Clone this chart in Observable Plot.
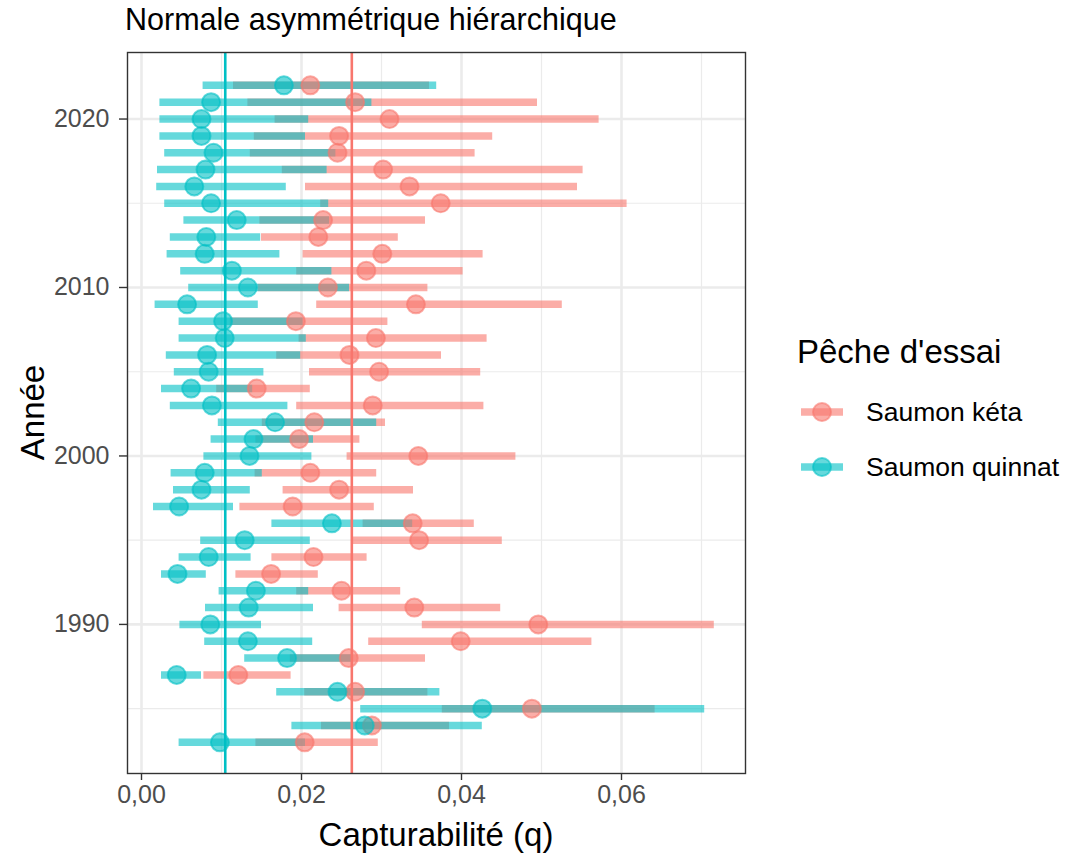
<!DOCTYPE html>
<html>
<head>
<meta charset="utf-8">
<script src="https://cdn.jsdelivr.net/npm/d3@7"></script>
<script src="https://cdn.jsdelivr.net/npm/@observablehq/plot@0.6"></script>
<style>
  body { margin: 0; background: #fff; }
  #chart svg { display: block; }
</style>
</head>
<body>
<div id="chart"></div>
<script>
// Capturabilité annuelle (q) : médiane et intervalle, par espèce de pêche d'essai
const annees = [2022, 2021, 2020, 2019, 2018, 2017, 2016, 2015, 2014, 2013,
                2012, 2011, 2010, 2009, 2008, 2007, 2006, 2005, 2004, 2003,
                2002, 2001, 2000, 1999, 1998, 1997, 1996, 1995, 1994, 1993,
                1992, 1991, 1990, 1989, 1988, 1987, 1986, 1985, 1984, 1983];

const ketaQ = [0.0211, 0.0267, 0.0310, 0.0247, 0.0245, 0.0302, 0.0335, 0.0374, 0.0227, 0.0221,
               0.0301, 0.0281, 0.0233, 0.0343, 0.0193, 0.0293, 0.0260, 0.0297, 0.0144, 0.0289,
               0.0216, 0.0197, 0.0346, 0.0211, 0.0247, 0.0189, 0.0339, 0.0347, 0.0215, 0.0162,
               0.0250, 0.0341, 0.0496, 0.0399, 0.0259, 0.0121, 0.0267, 0.0488, 0.0288, 0.0204];
const ketaBas = [0.0115, 0.0133, 0.0167, 0.0141, 0.0136, 0.0176, 0.0205, 0.0224, 0.0148, 0.0150,
                 0.0202, 0.0194, 0.0146, 0.0219, 0.0111, 0.0197, 0.0169, 0.0210, 0.0094, 0.0194,
                 0.0151, 0.0143, 0.0257, 0.0142, 0.0177, 0.0123, 0.0277, 0.0265, 0.0163, 0.0118,
                 0.0194, 0.0247, 0.0351, 0.0284, 0.0186, 0.0078, 0.0204, 0.0376, 0.0225, 0.0143];
const ketaHaut = [0.0360, 0.0495, 0.0572, 0.0439, 0.0417, 0.0552, 0.0545, 0.0607, 0.0355, 0.0321,
                  0.0427, 0.0402, 0.0358, 0.0526, 0.0308, 0.0432, 0.0375, 0.0424, 0.0211, 0.0428,
                  0.0305, 0.0273, 0.0468, 0.0294, 0.0340, 0.0291, 0.0416, 0.0451, 0.0282, 0.0221,
                  0.0324, 0.0449, 0.0716, 0.0563, 0.0355, 0.0187, 0.0358, 0.0642, 0.0385, 0.0296];

const quinnatQ = [0.0178, 0.0087, 0.0075, 0.0075, 0.0090, 0.0080, 0.0066, 0.0087, 0.0119, 0.0081,
                  0.0079, 0.0113, 0.0133, 0.0057, 0.0102, 0.0104, 0.0082, 0.0084, 0.0062, 0.0088,
                  0.0167, 0.0140, 0.0135, 0.0079, 0.0075, 0.0047, 0.0238, 0.0129, 0.0084, 0.0045,
                  0.0143, 0.0134, 0.0086, 0.0133, 0.0182, 0.0044, 0.0245, 0.0426, 0.0279, 0.0098];
const quinnatBas = [0.0077, 0.0023, 0.0023, 0.0023, 0.0029, 0.0020, 0.0019, 0.0029, 0.0053, 0.0036,
                    0.0032, 0.0049, 0.0059, 0.0017, 0.0047, 0.0047, 0.0031, 0.0041, 0.0025, 0.0036,
                    0.0096, 0.0087, 0.0078, 0.0037, 0.0040, 0.0015, 0.0163, 0.0074, 0.0047, 0.0025,
                    0.0097, 0.0080, 0.0048, 0.0079, 0.0129, 0.0025, 0.0169, 0.0274, 0.0188, 0.0047];
const quinnatHaut = [0.0369, 0.0288, 0.0209, 0.0205, 0.0243, 0.0232, 0.0181, 0.0234, 0.0235, 0.0149,
                     0.0173, 0.0238, 0.0260, 0.0146, 0.0202, 0.0206, 0.0199, 0.0153, 0.0139, 0.0183,
                     0.0294, 0.0215, 0.0213, 0.0151, 0.0136, 0.0115, 0.0339, 0.0211, 0.0137, 0.0081,
                     0.0209, 0.0215, 0.0150, 0.0214, 0.0264, 0.0075, 0.0373, 0.0704, 0.0426, 0.0205];

// Capturabilité moyenne de chaque espèce (lignes verticales)
const especes = ["Saumon kéta", "Saumon quinnat"];
const couleurs = ["#F8766D", "#00BFC4"];
const qMoyen = [0.02629, 0.01047];

const xTicks = [0, 0.02, 0.04, 0.06];
const xMineurs = [0.01, 0.03, 0.05, 0.07];
const yTicks = [1990, 2000, 2010, 2020];
const yMineurs = [1985, 1995, 2005, 2015];

const titre = "Normale asymmétrique hiérarchique";
const titreX = "Capturabilité (q)";
const titreY = "Année";
const titreLegende = "Pêche d'essai";

// Table longue : kéta d'abord, puis quinnat (dessiné par-dessus)
const lignes = [
  ...annees.map((a, i) => ({annee: a, espece: especes[0], q: ketaQ[i], bas: ketaBas[i], haut: ketaHaut[i]})),
  ...annees.map((a, i) => ({annee: a, espece: especes[1], q: quinnatQ[i], bas: quinnatBas[i], haut: quinnatHaut[i]}))
];
const moyennes = especes.map((e, i) => ({espece: e, q: qMoyen[i]}));

const W = 1070, H = 859;
const mL = 127, mR = 325, mT = 52, mB = 86;
const police = "'Liberation Sans', Arial, Helvetica, sans-serif";
const virgule = d => d3.format(".2f")(d).replace(".", ",");

const svg = Plot.plot({
  width: W,
  height: H,
  marginLeft: mL,
  marginRight: mR,
  marginTop: mT,
  marginBottom: mB,
  style: {fontFamily: police, background: "#fff", overflow: "visible"},
  x: {domain: [-0.00175, 0.0755]},
  y: {domain: [1981.15, 2023.95]},
  color: {domain: especes, range: couleurs},
  marks: [
    Plot.gridX(xMineurs, {stroke: "#EBEBEB", strokeOpacity: 1, strokeWidth: 1.2}),
    Plot.gridY(yMineurs, {stroke: "#EBEBEB", strokeOpacity: 1, strokeWidth: 1.2}),
    Plot.gridX(xTicks, {stroke: "#EBEBEB", strokeOpacity: 1, strokeWidth: 2.6}),
    Plot.gridY(yTicks, {stroke: "#EBEBEB", strokeOpacity: 1, strokeWidth: 2.6}),
    Plot.ruleY(lignes, {y: "annee", x1: "bas", x2: "haut", stroke: "espece", strokeWidth: 7.5, strokeOpacity: 0.6}),
    Plot.dot(lignes, {x: "q", y: "annee", r: 9, fill: "espece", fillOpacity: 0.6, stroke: "espece", strokeOpacity: 0.6, strokeWidth: 2}),
    Plot.ruleX(moyennes, {x: "q", stroke: "espece", strokeWidth: 2.6}),
    Plot.frame({stroke: "#333333", strokeWidth: 1.4}),
    Plot.axisX({ticks: xTicks, tickFormat: virgule, tickSize: 7, tickPadding: 5, fontSize: 25,
                stroke: "#333333", strokeWidth: 1.4, fill: "#4D4D4D", label: null}),
    Plot.axisY({ticks: yTicks, tickFormat: d => String(d), tickSize: 8, tickPadding: 10, fontSize: 25,
                stroke: "#333333", strokeWidth: 1.4, fill: "#4D4D4D", label: null})
  ]
});

document.getElementById("chart").appendChild(svg);

// Titre, titres d'axes et légende
const s = d3.select(svg);
const panneauX = (mL + (W - mR)) / 2;
const panneauY = (mT + (H - mB)) / 2;

s.append("text").attr("x", 125).attr("y", 30).attr("text-anchor", "start")
  .attr("font-family", police).attr("font-size", 30.5).attr("fill", "#000").text(titre);

s.append("text").attr("x", panneauX).attr("y", 846).attr("text-anchor", "middle")
  .attr("font-family", police).attr("font-size", 33).attr("fill", "#000").text(titreX);

s.append("text").attr("transform", `translate(44,${panneauY}) rotate(-90)`).attr("text-anchor", "middle")
  .attr("font-family", police).attr("font-size", 33).attr("fill", "#000").text(titreY);

const leg = s.append("g").attr("text-anchor", "start");
leg.append("text").attr("x", 797).attr("y", 363).attr("text-anchor", "start")
  .attr("font-family", police).attr("font-size", 33).attr("fill", "#000").text(titreLegende);

especes.forEach((e, i) => {
  const cy = 412 + i * 55;
  leg.append("line").attr("x1", 801).attr("x2", 843).attr("y1", cy).attr("y2", cy)
    .attr("stroke", couleurs[i]).attr("stroke-width", 7.5).attr("stroke-opacity", 0.6);
  leg.append("circle").attr("cx", 822).attr("cy", cy).attr("r", 9)
    .attr("fill", couleurs[i]).attr("fill-opacity", 0.6)
    .attr("stroke", couleurs[i]).attr("stroke-opacity", 0.6).attr("stroke-width", 2);
  leg.append("text").attr("x", 866).attr("y", cy + 9).attr("text-anchor", "start")
    .attr("font-family", police).attr("font-size", 26.5).attr("fill", "#000").text(e);
});
</script>
</body>
</html>
